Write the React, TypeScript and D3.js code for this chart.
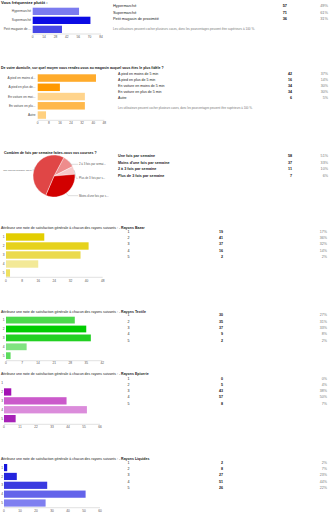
import React from "react";
import * as d3 from "d3";

const FONT = "'Liberation Sans', Arial, sans-serif";
const W = 331;
const H = 512;

// ---------- Q1 ----------
const q1Title = "Vous fréquentez plutôt :";
const q1Categories = ["Hypermarché", "Supermarché", "Petit magasin de proximité"];
const q1AxisLabels = ["Hypermarché", "Supermarché", "Petit magasin de ..."];
const q1Values = [57, 71, 36];
const q1Percents = ["49%", "61%", "31%"];
const q1Ticks = [0, 14, 28, 42, 56, 70, 84];
const q1Colors = ["#7b7bef", "#0c0ce4", "#4747e6"];

const checkboxNote =
  "Les utilisateurs peuvent cocher plusieurs cases, donc les pourcentages peuvent être supérieurs à 100 %.";

// ---------- Q2 ----------
const q2Title =
  "De votre domicile, sur quel moyen vous rendez-vous au magasin auquel vous êtes le plus fidèle ?";
const q2Categories = [
  "A pied en moins de 5 min",
  "A pied en plus de 5 min",
  "En voiture en moins de 5 min",
  "En voiture en plus de 5 min",
  "Autre",
];
const q2AxisLabels = [
  "A pied en moins d...",
  "A pied en plus de...",
  "En voiture en moi...",
  "En voiture en plu...",
  "Autre",
];
const q2Values = [42, 16, 34, 34, 6];
const q2Percents = ["37%", "14%", "30%", "30%", "5%"];
const q2Ticks = [0, 8, 16, 24, 32, 40, 48];
const q2Colors = ["#ffab2b", "#ff9900", "#ffd48c", "#ffb84a", "#ffd07f"];

// ---------- Q3 (pie) ----------
const q3Title = "Combien de fois par semaine faites-vous vos courses ?";
const q3Categories = [
  "Une fois par semaine",
  "Moins d'une fois par semaine",
  "2 à 3 fois par semaine",
  "Plus de 3 fois par semaine",
];
const q3Values = [58, 37, 11, 7];
const q3Percents = ["51%", "33%", "10%", "6%"];
const q3PieOrder = [2, 3, 1, 0];
const q3PieLabels = [
  "Une fois par semaine (51%)",
  "Moins d'une fois par s...",
  "2 à 3 fois par semai...",
  "Plus de 3 fois par s...",
];
const q3Colors = ["#e04646", "#d20000", "#ee8c8c", "#f6c9c9"];

// ---------- Q4-Q7 ----------
const ratingTitle =
  "Attribuez une note de satisfaction générale à chacun des rayons suivants : - ";
const ratingCategories = ["1", "2", "3", "4", "5"];

const q4Name = "Rayons Bazar";
const q4Values = [19, 41, 37, 16, 2];
const q4Percents = ["17%", "36%", "32%", "14%", "2%"];
const q4Ticks = [0, 8, 16, 24, 32, 40, 48];
const q4Colors = ["#e3ce00", "#e6d21c", "#ebda4e", "#f3e997", "#eee062"];

const q5Name = "Rayons Textile";
const q5Values = [30, 35, 37, 9, 2];
const q5Percents = ["27%", "31%", "33%", "8%", "2%"];
const q5Ticks = [0, 7, 14, 21, 28, 35, 42];
const q5Colors = ["#4cd94c", "#00cc00", "#22d022", "#80e380", "#5cdc5c"];

const q6Name = "Rayons Epicerie";
const q6Values = [0, 5, 43, 57, 8];
const q6Percents = ["0%", "4%", "38%", "50%", "7%"];
const q6Ticks = [0, 11, 22, 33, 44, 55, 66];
const q6Colors = ["#b040c0", "#a312b3", "#cb5acb", "#db8cdb", "#a722b7"];

const q7Name = "Rayons Liquides";
const q7Values = [2, 8, 27, 51, 26];
const q7Percents = ["2%", "7%", "23%", "44%", "22%"];
const q7Ticks = [0, 10, 20, 30, 40, 50, 60];
const q7Colors = ["#1414dc", "#2424dd", "#3a3ae0", "#6363ea", "#7f7ff0"];

type HBarProps = {
  cats: string[];
  axisLabels: string[];
  values: number[];
  colors: string[];
  ticks: number[];
  x0: number;
  x1: number;
  yTop: number;
  step: number;
  bh: number;
  labelX: number;
  axisY: number;
  tickY: number;
};

function HBar(p: HBarProps) {
  const x = d3.scaleLinear().domain([0, p.ticks[p.ticks.length - 1]]).range([p.x0, p.x1]);
  const pi = 1 - p.bh / p.step;
  const start = p.yTop - (p.step * pi) / 2;
  const y = d3
    .scaleBand<string>()
    .domain(p.cats)
    .range([start, start + p.cats.length * p.step])
    .paddingInner(pi)
    .paddingOuter(pi / 2);
  return (
    <g>
      {p.cats.map((c, i) => (
        <rect
          key={c}
          x={x(0)}
          y={y(c)}
          width={Math.max(0, x(p.values[i]) - x(0))}
          height={y.bandwidth()}
          fill={p.colors[i]}
        />
      ))}
      {p.cats.map((c, i) => (
        <text
          key={"l" + c}
          x={p.labelX}
          y={(y(c) as number) + y.bandwidth() / 2 + 1.1}
          fontSize={3.2}
          textAnchor="end"
          fill="#444"
        >
          {p.axisLabels[i]}
        </text>
      ))}
      <line x1={x(0)} x2={x(p.ticks[p.ticks.length - 1])} y1={p.axisY} y2={p.axisY} stroke="#ccc" strokeWidth={0.6} />
      {p.ticks.map((t) => (
        <text key={"t" + t} x={x(t)} y={p.tickY + 1.1} fontSize={3.2} textAnchor="middle" fill="#555">
          {t}
        </text>
      ))}
    </g>
  );
}

type TableProps = {
  labels: string[];
  counts: number[];
  pcts: string[];
  x: number;
  countX: number;
  pctX: number;
  y0: number;
  step: number;
  boldLabels?: boolean;
  size?: number;
};

function Table(p: TableProps) {
  return (
    <g fontSize={p.size ?? 3.6}>
      {p.labels.map((l, i) => {
        const yy = p.y0 + i * p.step + 1.2;
        return (
          <g key={l}>
            <text x={p.x} y={yy} fill="#222" fontWeight={p.boldLabels ? "bold" : "normal"}>
              {l}
            </text>
            <text x={p.countX} y={yy} textAnchor="end" fontWeight="bold" fill="#111">
              {p.counts[i]}
            </text>
            <text x={p.pctX} y={yy} textAnchor="end" fill="#777">
              {p.pcts[i]}
            </text>
          </g>
        );
      })}
    </g>
  );
}

function Pie() {
  const cx = 54;
  const cy = 176;
  const r = 21;
  const order = q3PieOrder;
  const pie = d3
    .pie<number>()
    .sort(null)
    .value((i) => q3Values[i])
    .startAngle((28 * Math.PI) / 180)
    .endAngle((28 * Math.PI) / 180 + 2 * Math.PI);
  const arcs = pie(order);
  const arc = d3.arc<d3.PieArcDatum<number>>().innerRadius(0).outerRadius(r);
  const edge = d3.arc<d3.PieArcDatum<number>>().innerRadius(r).outerRadius(r);
  const labelPos: Record<number, { y: number; side: "l" | "r" }> = {
    0: { y: 170, side: "l" },
    1: { y: 195.7, side: "r" },
    2: { y: 164.3, side: "r" },
    3: { y: 178.3, side: "r" },
  };
  return (
    <g>
      <g transform={`translate(${cx},${cy})`}>
        {arcs.map((a) => (
          <path key={a.data} d={arc(a) as string} fill={q3Colors[a.data]} stroke="#fff" strokeWidth={0.4} />
        ))}
      </g>
      {arcs.map((a) => {
        const [ex, ey] = edge.centroid(a);
        const lp = labelPos[a.data];
        const px = cx + ex;
        const py = cy + ey;
        const lx = lp.side === "l" ? 32.5 : 78;
        return (
          <g key={"lab" + a.data}>
            <polyline
              points={`${px},${py} ${lp.side === "l" ? px - 1 : px + 2},${lp.y} ${lx},${lp.y}`}
              fill="none"
              stroke="#999"
              strokeWidth={0.35}
            />
            <text
              x={lp.side === "l" ? 32 : 79}
              y={lp.y + 0.9}
              fontSize={lp.side === "l" ? 2.35 : 2.8}
              textAnchor={lp.side === "l" ? "end" : "start"}
              fill="#555"
            >
              {q3PieLabels[a.data]}
            </text>
          </g>
        );
      })}
    </g>
  );
}

function RatingTitle({ y, name }: { y: number; name: string }) {
  return (
    <text x={1} y={y} fontSize={3.55} fill="#222">
      {ratingTitle}
      <tspan fontWeight="bold">{name}</tspan>
    </text>
  );
}

export default function App() {
  return (
    <svg
      width={W}
      height={H}
      viewBox={`0 0 ${W} ${H}`}
      style={{ position: "absolute", left: 0, top: 0, background: "#fff" }}
      fontFamily={FONT}
    >
      <rect x={0} y={0} width={W} height={H} fill="#fff" />

      {/* Q1 */}
      <text x={1} y={4.3} fontSize={4.1} fontWeight="bold" fill="#111">
        {q1Title}
      </text>
      <HBar
        cats={q1Categories}
        axisLabels={q1AxisLabels}
        values={q1Values}
        colors={q1Colors}
        ticks={q1Ticks}
        x0={32.7}
        x1={101}
        yTop={7.7}
        step={9}
        bh={7.3}
        labelX={31}
        axisY={34}
        tickY={37}
      />
      <Table labels={q1Categories} counts={q1Values} pcts={q1Percents} x={113} countX={287} pctX={328} y0={6} step={6.5} size={3.9} />
      <text x={113} y={30.2} fontSize={3.05} fill="#777">
        {checkboxNote}
      </text>

      {/* Q2 */}
      <text x={1} y={69.3} fontSize={3.5} fontWeight="bold" fill="#111">
        {q2Title}
      </text>
      <HBar
        cats={q2Categories}
        axisLabels={q2AxisLabels}
        values={q2Values}
        colors={q2Colors}
        ticks={q2Ticks}
        x0={37.7}
        x1={104.3}
        yTop={74.3}
        step={9.25}
        bh={7.5}
        labelX={35.5}
        axisY={120.3}
        tickY={123}
      />
      <Table labels={q2Categories} counts={q2Values} pcts={q2Percents} x={118} countX={292} pctX={328} y0={73.3} step={6.1} />
      <text x={118} y={108.8} fontSize={2.9} fill="#777">
        {checkboxNote}
      </text>

      {/* Q3 */}
      <text x={4} y={154} fontSize={3.5} fontWeight="bold" fill="#111">
        {q3Title}
      </text>
      <Pie />
      <Table labels={q3Categories} counts={q3Values} pcts={q3Percents} x={118} countX={292} pctX={328} y0={156} step={6.6} boldLabels size={3.7} />

      {/* Q4 */}
      <RatingTitle y={228.5} name={q4Name} />
      <HBar
        cats={ratingCategories}
        axisLabels={ratingCategories}
        values={q4Values}
        colors={q4Colors}
        ticks={q4Ticks}
        x0={6}
        x1={102.7}
        yTop={233.3}
        step={9}
        bh={7.4}
        labelX={4.5}
        axisY={277.3}
        tickY={280.7}
      />
      <Table labels={ratingCategories} counts={q4Values} pcts={q4Percents} x={127.5} countX={223} pctX={327} y0={231.7} step={6.25} />

      {/* Q5 */}
      <RatingTitle y={313} name={q5Name} />
      <HBar
        cats={ratingCategories}
        axisLabels={ratingCategories}
        values={q5Values}
        colors={q5Colors}
        ticks={q5Ticks}
        x0={6}
        x1={102.3}
        yTop={316.7}
        step={8.9}
        bh={6.8}
        labelX={4.5}
        axisY={360.7}
        tickY={363.3}
      />
      <Table labels={ratingCategories} counts={q5Values} pcts={q5Percents} x={127.5} countX={223} pctX={327} y0={315} step={6.4} />

      {/* Q6 */}
      <RatingTitle y={374.6} name={q6Name} />
      <HBar
        cats={ratingCategories}
        axisLabels={ratingCategories}
        values={q6Values}
        colors={q6Colors}
        ticks={q6Ticks}
        x0={4}
        x1={100}
        yTop={379.4}
        step={8.9}
        bh={7.3}
        labelX={3}
        axisY={424.3}
        tickY={426.7}
      />
      <Table labels={ratingCategories} counts={q6Values} pcts={q6Percents} x={127.5} countX={223} pctX={327} y0={378.3} step={6.25} />

      {/* Q7 */}
      <RatingTitle y={459.6} name={q7Name} />
      <HBar
        cats={ratingCategories}
        axisLabels={ratingCategories}
        values={q7Values}
        colors={q7Colors}
        ticks={q7Ticks}
        x0={4}
        x1={100}
        yTop={464}
        step={8.85}
        bh={7.2}
        labelX={3}
        axisY={507.7}
        tickY={511}
      />
      <Table labels={ratingCategories} counts={q7Values} pcts={q7Percents} x={127.5} countX={223} pctX={327} y0={462.3} step={6.35} />
    </svg>
  );
}
